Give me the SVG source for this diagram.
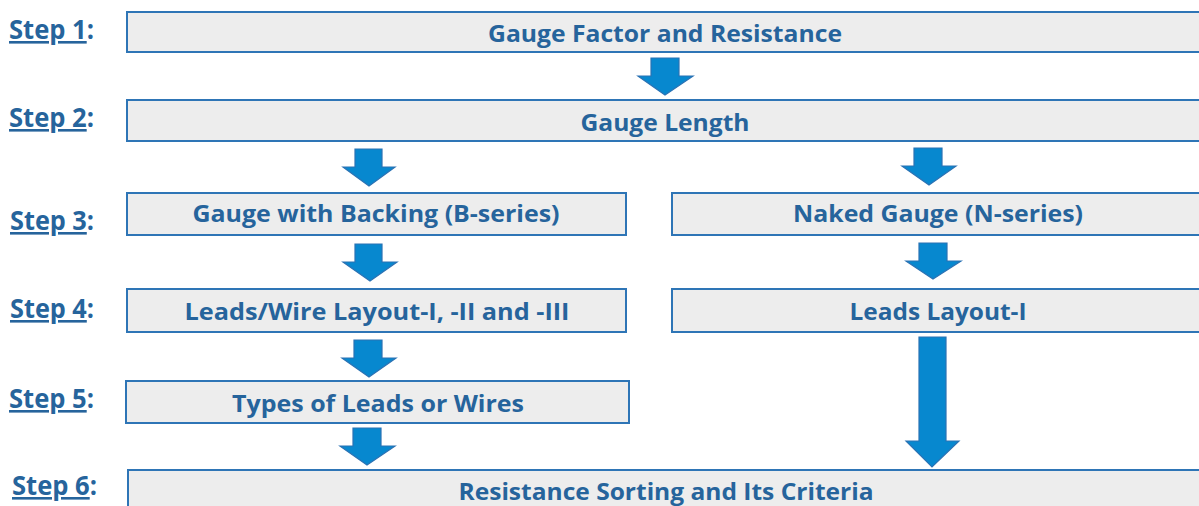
<svg xmlns="http://www.w3.org/2000/svg" width="1199" height="506" viewBox="0 0 1199 506">
<defs>
<style>
.box{fill:#ededed;stroke:#2e75b6;stroke-width:2}
.lbl{font-family:"Open Sans",Lato,"Liberation Sans",sans-serif;font-weight:bold;font-size:24px;fill:#26649c;text-anchor:middle}
.step{font-family:"Open Sans",Lato,"Liberation Sans",sans-serif;font-weight:bold;font-size:26px;fill:#26649c}
.u{text-decoration:underline}
.arr{fill:#0788cf;stroke:#2a72b4;stroke-width:1.2}
</style>
</defs>
<rect width="1199" height="506" fill="#ffffff"/>
<g id="steps">
<text class="step" x="9" y="39" textLength="85" lengthAdjust="spacingAndGlyphs"><tspan class="u">Step 1</tspan>:</text>
<text class="step" x="9" y="127" textLength="85" lengthAdjust="spacingAndGlyphs"><tspan class="u">Step 2</tspan>:</text>
<text class="step" x="10" y="230" textLength="84" lengthAdjust="spacingAndGlyphs"><tspan class="u">Step 3</tspan>:</text>
<text class="step" x="10" y="318" textLength="84" lengthAdjust="spacingAndGlyphs"><tspan class="u">Step 4</tspan>:</text>
<text class="step" x="9" y="408" textLength="85" lengthAdjust="spacingAndGlyphs"><tspan class="u">Step 5</tspan>:</text>
<text class="step" x="12" y="495" textLength="85" lengthAdjust="spacingAndGlyphs"><tspan class="u">Step 6</tspan>:</text>
</g>
<g id="n1"><rect class="box" x="127" y="12" width="1080" height="40"/><text class="lbl" x="665" y="42" textLength="354" lengthAdjust="spacingAndGlyphs">Gauge Factor and Resistance</text></g>
<g id="n2"><rect class="box" x="127" y="100" width="1080" height="41"/><text class="lbl" x="665" y="131" textLength="169" lengthAdjust="spacingAndGlyphs">Gauge Length</text></g>
<g id="n3a"><rect class="box" x="127" y="193" width="499" height="42"/><text class="lbl" x="376" y="222" textLength="367" lengthAdjust="spacingAndGlyphs">Gauge with Backing (B-series)</text></g>
<g id="n3b"><rect class="box" x="672" y="193" width="535" height="42"/><text class="lbl" x="938" y="222" textLength="290" lengthAdjust="spacingAndGlyphs">Naked Gauge (N-series)</text></g>
<g id="n4a"><rect class="box" x="127" y="289" width="499" height="43"/><text class="lbl" x="377" y="320" textLength="385" lengthAdjust="spacingAndGlyphs">Leads/Wire Layout-I, -II and -III</text></g>
<g id="n4b"><rect class="box" x="672" y="289" width="535" height="43"/><text class="lbl" x="938" y="320" textLength="177" lengthAdjust="spacingAndGlyphs">Leads Layout-I</text></g>
<g id="n5"><rect class="box" x="126" y="381" width="503" height="42"/><text class="lbl" x="378" y="412" textLength="292" lengthAdjust="spacingAndGlyphs">Types of Leads or Wires</text></g>
<g id="n6"><rect class="box" x="128" y="470" width="1080" height="50"/><text class="lbl" x="666" y="500" textLength="415" lengthAdjust="spacingAndGlyphs">Resistance Sorting and Its Criteria</text></g>
<g id="connectors">
<polygon class="arr" points="651,58 679,58 679,76 693,76 665,95 638,76 651,76"/>
<polygon class="arr" points="355,149 382,149 382,167 395,167 369,186 343,167 355,167"/>
<polygon class="arr" points="914,148 942,148 942,166 956,166 929,185 902,166 914,166"/>
<polygon class="arr" points="355,244 382,244 382,262 397,262 370,281 343,262 355,262"/>
<polygon class="arr" points="919,243 947,243 947,261 961,261 933,279 906,261 919,261"/>
<polygon class="arr" points="354,340 382,340 382,358 396,358 369,377 342,358 354,358"/>
<polygon class="arr" points="353,428 381,428 381,446 395,446 367,465 340,446 353,446"/>
<polygon class="arr" points="919,337 946,337 946,441 959,441 932,467 906,441 919,441"/>
</g>
</svg>
